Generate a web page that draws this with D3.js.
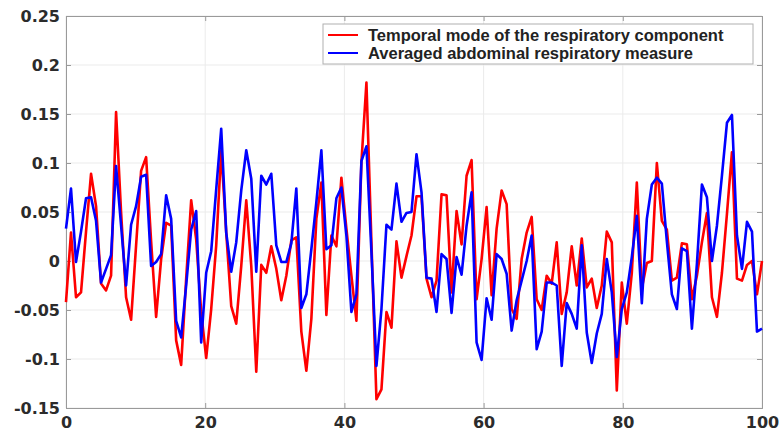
<!DOCTYPE html>
<html>
<head>
<meta charset="utf-8">
<script src="https://cdn.jsdelivr.net/npm/d3@7"></script>
<style>
  body { margin: 0; background: #fff; }
  svg { display: block; font-family: "Liberation Sans", Arial, sans-serif; }
</style>
</head>
<body>
<div id="chart"></div>
<script>
// temporal mode of the respiratory component (red), one sample per frame
var redValues = [
  -0.042, 0.029, -0.037, -0.032, 0.030, 0.089, 0.056, -0.023, -0.030, -0.015,
  0.152, 0.050, -0.037, -0.060, 0.016, 0.092, 0.106, 0.020, -0.057, 0.002,
  0.039, 0.036, -0.081, -0.106, -0.018, 0.062, 0.022, -0.052, -0.099, -0.049,
  0.016, 0.113, 0.029, -0.046, -0.064, -0.005, 0.062, -0.005, -0.113, -0.004,
  -0.012, 0.015, -0.008, -0.040, -0.015, 0.021, 0.024, -0.072, -0.112, -0.059,
  0.043, 0.080, -0.055, 0.026, 0.015, 0.085, 0.033, -0.015, -0.061, 0.101,
  0.182, 0.019, -0.141, -0.131, -0.052, -0.068, 0.020, -0.017, 0.005, 0.026,
  0.066, 0.066, -0.018, -0.037, -0.020, 0.068, 0.067, -0.032, 0.051, 0.017,
  0.087, 0.103, -0.039, 0.002, 0.055, -0.035, 0.033, 0.072, 0.058, -0.049,
  -0.059, 0.002, 0.029, 0.045, -0.039, -0.050, -0.015, -0.023, 0.019, -0.054,
  -0.032, 0.015, -0.025, 0.023, -0.027, -0.018, -0.048, -0.025, 0.030, 0.019,
  -0.132, -0.022, -0.064, -0.012, 0.080, -0.028, -0.002, 0.000, 0.100, 0.041,
  0.032, -0.020, -0.017, 0.018, 0.017, -0.039, -0.015, 0.019, 0.049, -0.037,
  -0.057, -0.012, 0.048, 0.111, -0.018, -0.020, -0.004, 0.000, -0.034, 0.000
];

// averaged abdominal respiratory measure (blue)
var blueValues = [
  0.033, 0.074, -0.001, 0.030, 0.064, 0.065, 0.041, -0.022, -0.008, 0.006,
  0.097, 0.036, -0.025, 0.037, 0.056, 0.086, 0.088, -0.005, -0.001, 0.007,
  0.067, 0.043, -0.061, -0.078, -0.025, 0.032, 0.051, -0.083, -0.012, 0.010,
  0.073, 0.135, 0.029, -0.011, 0.019, 0.072, 0.113, 0.084, -0.011, 0.087,
  0.078, 0.089, 0.016, -0.001, -0.001, 0.018, 0.074, -0.048, -0.034, 0.012,
  0.060, 0.113, 0.012, 0.016, 0.064, 0.075, 0.026, -0.052, -0.034, 0.102,
  0.117, 0.009, -0.107, -0.049, 0.037, 0.032, 0.079, 0.040, 0.049, 0.050,
  0.109, 0.070, -0.017, -0.018, -0.052, 0.007, 0.002, -0.053, 0.004, -0.014,
  0.036, 0.070, -0.083, -0.101, -0.038, -0.060, 0.007, 0.002, -0.013, -0.071,
  -0.040, -0.020, 0.000, 0.026, -0.090, -0.072, -0.022, -0.022, -0.025, -0.107,
  -0.043, -0.054, -0.069, 0.016, -0.073, -0.104, -0.074, -0.054, 0.002, -0.032,
  -0.098, -0.049, -0.032, 0.004, 0.046, -0.043, 0.043, 0.078, 0.085, 0.079,
  0.020, -0.034, -0.049, 0.013, 0.010, -0.069, -0.003, 0.078, 0.065, 0.000,
  0.036, 0.087, 0.141, 0.149, 0.026, -0.008, 0.040, 0.030, -0.072, -0.069
];

var seriesNames = [
  'Temporal mode of the respiratory component',
  'Averaged abdominal respiratory measure'
];
var seriesColors = ['#ff0000', '#0000ff'];

var xTicks = [0, 20, 40, 60, 80, 100];
var yTicks = [-0.15, -0.1, -0.05, 0, 0.05, 0.1, 0.15, 0.2, 0.25];

var width = 781, height = 439;
var margin = { top: 16, right: 19, bottom: 31, left: 66 };
var innerW = width - margin.left - margin.right;
var innerH = height - margin.top - margin.bottom;

var svg = d3.select('#chart').append('svg')
  .attr('width', width)
  .attr('height', height);

var g = svg.append('g')
  .attr('transform', 'translate(' + margin.left + ',' + margin.top + ')');

var n = redValues.length;
var x = d3.scaleLinear().domain([0, 100]).range([0, innerW]);
var y = d3.scaleLinear().domain([-0.15, 0.25]).range([innerH, 0]);

// samples spread evenly over 0..100
function xOf(i) { return i * 100 / (n - 1); }

// grid
g.append('g').selectAll('line.gx')
  .data(xTicks).enter().append('line')
  .attr('x1', d => x(d)).attr('x2', d => x(d))
  .attr('y1', 0).attr('y2', innerH)
  .attr('stroke', '#ebebeb').attr('stroke-width', 1);

g.append('g').selectAll('line.gy')
  .data(yTicks).enter().append('line')
  .attr('x1', 0).attr('x2', innerW)
  .attr('y1', d => y(d)).attr('y2', d => y(d))
  .attr('stroke', '#ebebeb').attr('stroke-width', 1);

// axes
var axisColor = '#9a9a9a';
g.append('g')
  .attr('transform', 'translate(0,' + innerH + ')')
  .call(d3.axisBottom(x).tickValues(xTicks).tickSize(-5).tickPadding(9).tickFormat(d3.format('d')));
g.append('g')
  .call(d3.axisLeft(y).tickValues(yTicks).tickSize(-5).tickPadding(6).tickFormat(d => d === 0 ? '0' : String(d)));
// top and right ticks
g.append('g')
  .call(d3.axisTop(x).tickValues(xTicks).tickSize(-5).tickFormat(''));
g.append('g')
  .attr('transform', 'translate(' + innerW + ',0)')
  .call(d3.axisRight(y).tickValues(yTicks).tickSize(-5).tickFormat(''));

svg.selectAll('.domain, .tick line').attr('stroke', axisColor);
svg.selectAll('.tick text')
  .attr('fill', '#2b2b2b')
  .style('font-family', '"DejaVu Sans", sans-serif')
  .style('font-size', '16px')
  .style('font-weight', 'bold');

// lines
var line = d3.line()
  .x((d, i) => x(xOf(i)))
  .y(d => y(d));

[redValues, blueValues].forEach(function (vals, k) {
  g.append('path')
    .datum(vals)
    .attr('fill', 'none')
    .attr('stroke', seriesColors[k])
    .attr('stroke-width', 2.6)
    .attr('stroke-linejoin', 'round')
    .attr('d', line);
});

// legend
var legend = svg.append('g').attr('transform', 'translate(323,24)');
legend.append('rect')
  .attr('width', 430).attr('height', 40)
  .attr('fill', '#fff').attr('stroke', '#b0b0b0').attr('stroke-width', 1);

var items = legend.selectAll('g.item')
  .data(seriesNames).enter().append('g')
  .attr('transform', (d, i) => 'translate(0,' + (11 + i * 18) + ')');

items.append('line')
  .attr('x1', 5).attr('x2', 35)
  .attr('y1', 0).attr('y2', 0)
  .attr('stroke', (d, i) => seriesColors[i])
  .attr('stroke-width', 2);

items.append('text')
  .attr('x', 45).attr('y', 0)
  .attr('dy', '0.35em')
  .attr('fill', '#222')
  .style('font-size', '16.5px')
  .style('font-weight', 'bold')
  .text(d => d);
</script>
</body>
</html>
